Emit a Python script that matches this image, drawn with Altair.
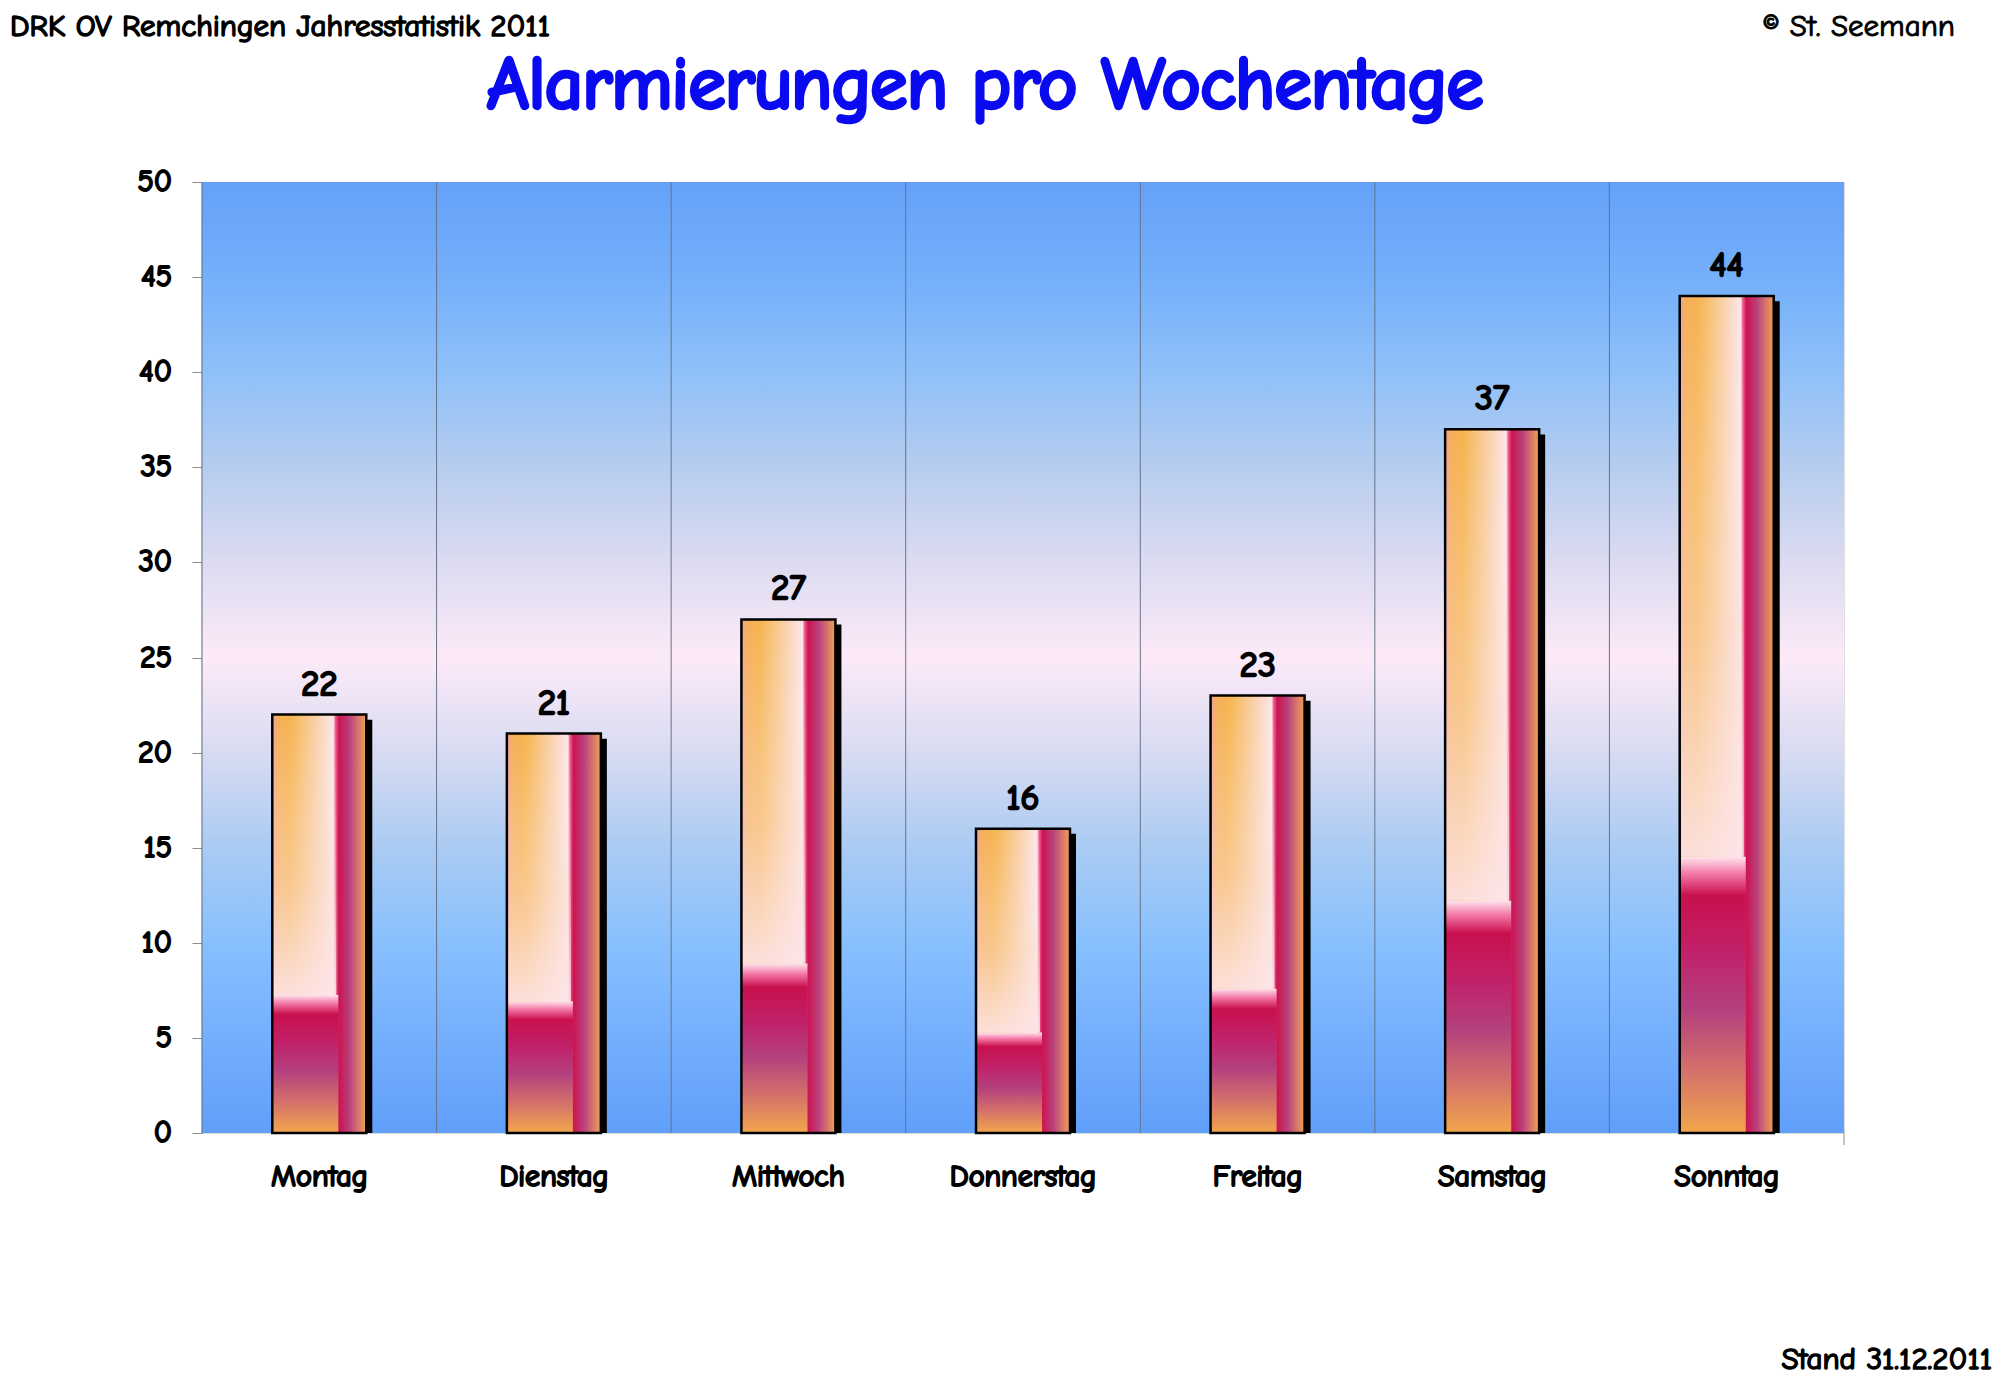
import altair as alt
import pandas as pd

# ---- data ----
days = ["Montag", "Dienstag", "Mittwoch", "Donnerstag", "Freitag", "Samstag", "Sonntag"]
counts = [22, 21, 27, 16, 23, 37, 44]
y_ticks = [0, 5, 10, 15, 20, 25, 30, 35, 40, 45, 50]

header_left = "DRK OV Remchingen Jahresstatistik 2011"
header_right = "© St. Seemann"
main_title = "Alarmierungen pro Wochentage"
footer = "Stand 31.12.2011"

W, H = 1642, 951
BAR_W = 94
FONT = "Comic Sans MS, Comic Neue, Open Sans, sans-serif"

df = pd.DataFrame({"day": days, "v": counts})
ticks_df = pd.DataFrame({"t": y_ticks})


def grad(stops, vertical=False):
    return alt.LinearGradient(
        gradient="linear",
        stops=[alt.GradientStop(offset=o, color=c) for o, c in stops],
        x1=0, y1=0,
        x2=0 if vertical else 1,
        y2=1 if vertical else 0,
    )


bg_grad = grad([
    (0.0, "#64a2f9"), (0.1, "#74affa"), (0.2, "#8fc0f9"), (0.3, "#b6cdef"),
    (0.4, "#dcdbf1"), (0.5, "#fdeaf8"), (0.6, "#d8dbf2"), (0.7, "#aacbf3"),
    (0.8, "#88c0fe"), (0.9, "#74affd"), (1.0, "#609ffa"),
], vertical=True)

bar_h_grad = grad([
    (0.0, "#f4a0a0"), (0.06, "#f5ae58"), (0.2, "#f6b450"), (0.45, "#f9cfa4"),
    (0.65, "#fde6ea"), (0.67, "#f06090"), (0.71, "#cc1450"), (0.82, "#b8407c"),
    (0.92, "#d8786a"), (1.0, "#f0a050"),
])

upper_fade = grad([
    (0.0, "rgba(255,240,235,0)"), (0.6, "rgba(252,225,215,0.45)"),
    (1.0, "rgba(253,228,232,0.9)"),
], vertical=True)

lower_grad = grad([
    (0.0, "#fde4ec"), (0.06, "#f47aa8"), (0.14, "#c8104e"), (0.35, "#c0226a"),
    (0.55, "#b4407e"), (0.78, "#d4726a"), (1.0, "#f2a64c"),
], vertical=True)

x_scale = alt.Scale(domain=days, paddingInner=0, paddingOuter=0)
x_enc = alt.X(
    "day:N", sort=days, scale=x_scale,
    axis=alt.Axis(
        title=None, bandPosition=0, labels=False, grid=False,
        tickSize=12, tickColor="#8c8c8c", domainColor="#8c8c8c", domainWidth=1.5,
    ),
)
y_scale = alt.Scale(domain=[0, 50], nice=False)
y_axis = alt.Axis(
    title=None, values=y_ticks, grid=False, labels=False,
    tickSize=10, tickColor="#8c8c8c", domainColor="#8c8c8c", domainWidth=1.5,
)

base = alt.Chart(df).transform_calculate(
    low="datum.v * 0.33", sh="datum.v - 0.27"
)

background = alt.Chart(pd.DataFrame({"a": [0]})).mark_rect(fill=bg_grad).encode(
    x=alt.value(0), x2=alt.value(W), y=alt.value(0), y2=alt.value(H)
)

grid_rules = base.mark_rule(color="#66738a", strokeWidth=1).encode(
    x=alt.X("day:N", sort=days, scale=x_scale, bandPosition=0, axis=None),
    y=alt.value(0), y2=alt.value(H),
)

shadow = base.mark_bar(width=BAR_W, xOffset=6, color="black").encode(
    x=x_enc, y=alt.Y("sh:Q", scale=y_scale, axis=y_axis)
)

bar_main = base.mark_bar(width=BAR_W, fill=bar_h_grad).encode(
    x=x_enc, y=alt.Y("v:Q", scale=y_scale, axis=y_axis)
)

upper = base.mark_bar(width=64, xOffset=-15, fill=upper_fade).encode(
    x=x_enc, y=alt.Y("v:Q", scale=y_scale, axis=y_axis), y2="low:Q"
)

lower = base.mark_bar(width=66, xOffset=-14, fill=lower_grad).encode(
    x=x_enc, y=alt.Y("low:Q", scale=y_scale, axis=y_axis)
)

outline = base.mark_bar(
    width=BAR_W, fillOpacity=0, stroke="black", strokeWidth=2.5
).encode(x=x_enc, y=alt.Y("v:Q", scale=y_scale, axis=y_axis))


def bold(sw):
    return dict(font=FONT, color="black", stroke="black", strokeWidth=sw,
                strokeJoin="round")


labels = base.mark_text(
    baseline="alphabetic", dy=-20, fontSize=35, **bold(2.3)
).encode(x=x_enc, y=alt.Y("v:Q", scale=y_scale, axis=y_axis), text="v:Q")

x_labels = base.mark_text(baseline="middle", fontSize=30, **bold(2.0)).encode(
    x=x_enc, y=alt.value(H + 44), text="day:N"
)

y_labels = alt.Chart(ticks_df).mark_text(
    align="right", baseline="middle", fontSize=30, **bold(2.0)
).encode(
    y=alt.Y("t:Q", scale=y_scale, axis=y_axis), x=alt.value(-30), text="t:Q"
)

end_tick = alt.Chart(pd.DataFrame({"a": [0]})).mark_rule(
    color="#8c8c8c", strokeWidth=1
).encode(x=alt.value(W), y=alt.value(H), y2=alt.value(H + 12))


def txt(s, x, y, size, align="left", color="black", sw=1.6):
    return alt.Chart(pd.DataFrame({"t": [s]})).mark_text(
        align=align, baseline="alphabetic", fontSize=size, font=FONT,
        color=color, stroke=color, strokeWidth=sw, strokeJoin="round"
    ).encode(text="t:N", x=alt.value(x), y=alt.value(y))


t_header = txt(header_left, -192, -146, 31)
t_copy = txt(header_right, 1753, -146, 31, align="right", sw=1.0)
t_title = txt(main_title, 783, -74, 73, align="center", color="#0a0af0", sw=4.5)
t_footer = txt(footer, 1790, 1187, 31, align="right")

chart = alt.layer(
    background, grid_rules, shadow, bar_main, upper, lower, outline, labels,
    x_labels, y_labels, end_tick,
    t_header, t_copy, t_title, t_footer,
).properties(
    width=W, height=H,
    autosize=alt.AutoSizeParams(type="none"),
    padding={"left": 194, "top": 174, "right": 148, "bottom": 246},
).configure_view(
    stroke="#8c8c8c", strokeWidth=1.5
).configure(background="white")

chart.save("out.html", embed_options={"renderer": "svg", "actions": False})
